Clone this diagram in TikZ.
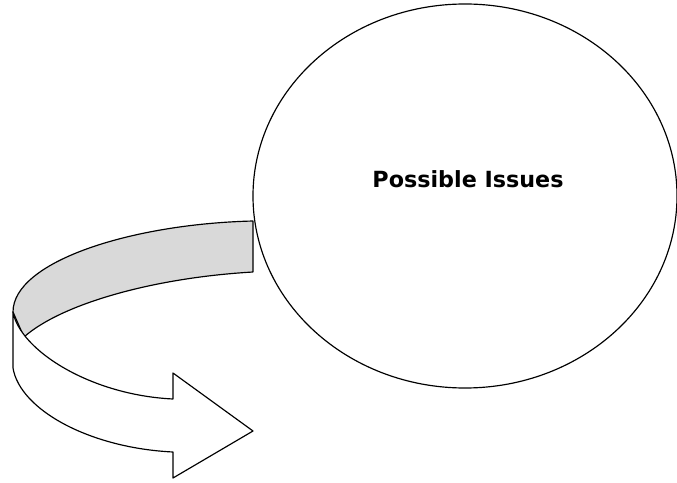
\documentclass[tikz,border=0pt]{standalone}
\usepackage{fontspec}
\setmainfont{DejaVu Sans}
\usepackage{tikz}
\usetikzlibrary{positioning}
\usetikzlibrary{shapes.geometric}
\definecolor{bandgray}{HTML}{D9D9D9}

\begin{document}
\begin{tikzpicture}[x=0.03cm, y=-0.03cm]
			\tikzset{
				bubble/.style={ellipse, draw, line width=1pt, inner sep=0pt, minimum width=12.72cm, minimum height=11.52cm},
				ribbon/.style={draw, line width=1pt, line join=round}
			}
			\useasboundingbox (0,0) rectangle (677,483);

			% Big ellipse with the title
			\node[bubble] (issues) at (465,196) {};
			\node[font=\bfseries\fontsize{19}{22}\selectfont] (title) at (468,179) {Possible Issues};

			% Back side of the curved arrow
			\draw[ribbon, fill=bandgray] (253,272) -- (253,221)
				.. controls (130,224) and (13,262) .. (13,312)
				-- (24,337)
				.. controls (60,305) and (150,278) .. (253,272);

			% Front side of the curved arrow with its head
			\draw[ribbon, fill=white] (13,312)
				.. controls (20,350) and (90,395) .. (173,399)
				-- (173,373) -- (253,431) -- (173,478) -- (173,452)
				.. controls (90,448) and (20,410) .. (13,368)
				-- cycle;
		\end{tikzpicture}
\end{document}
